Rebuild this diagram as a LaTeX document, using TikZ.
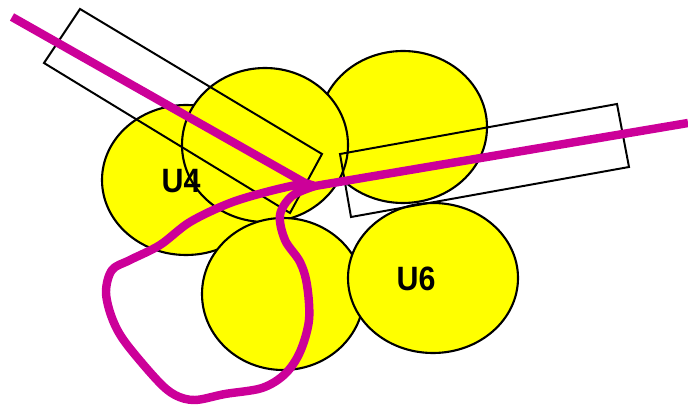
\documentclass[tikz,border=0pt]{standalone}
\usepackage{fontspec}
\setsansfont{Liberation Sans}
\usetikzlibrary{calc}
\definecolor{padfill}{HTML}{FFFF00}
\definecolor{trace}{HTML}{CC0099}
\tikzset{
  pad/.style={draw=black, fill=padfill, line width=1.5pt},
  keepout/.style={draw=black, line width=1.4pt, line join=miter},
  track/.style={draw=trace, line width=6pt, line cap=butt, line join=round},
  padlabel/.style={font=\sffamily\bfseries\fontsize{24}{24}\selectfont, text=black, inner sep=0pt, xscale=0.9}
}

\begin{document}
\begin{tikzpicture}[x=0.025cm, y=-0.025cm]
\useasboundingbox (0,0) rectangle (688,406);
\coordinate (tr) at (403,127);
\coordinate (lf) at (186,180);
\coordinate (tm) at (265,145);
\coordinate (bm) at (283,294);
\coordinate (rt) at (433,278);
\path[pad] (tr) ellipse [x radius=84, y radius=76];
\path[pad] (lf) ellipse [x radius=84, y radius=75];
\path[pad] (tm) ellipse [x radius=83, y radius=77];
\path[pad] (bm) ellipse [x radius=81, y radius=76];
\path[pad] (rt) ellipse [x radius=85, y radius=75];
\node[padlabel] (u4) at (181,181) {U4};
\node[padlabel] (u6) at (416,279) {U6};
\draw[keepout] (80,9) -- (322,154) -- (290,213) -- (44,63) -- cycle;
\draw[keepout] (340,154) -- (617,104) -- (629,167) -- (351,217) -- cycle;
\coordinate (jn) at (305,183);
\draw[track] (12,17) -- (jn);
\draw[track] (jn) -- (315,186) -- (688,123);
\draw[track] plot[smooth, tension=0.55] coordinates {(305,183) (270,191) (230,203) (190,222) (160,245) (130,260) (112,270) (106,292) (112,318) (125,342) (157,380) (175,395) (195,400) (225,394) (262,388) (285,374) (300,352) (309,320) (307,285) (300,262) (285,240) (280,215) (292,196) (315,186)};
\end{tikzpicture}
\end{document}
